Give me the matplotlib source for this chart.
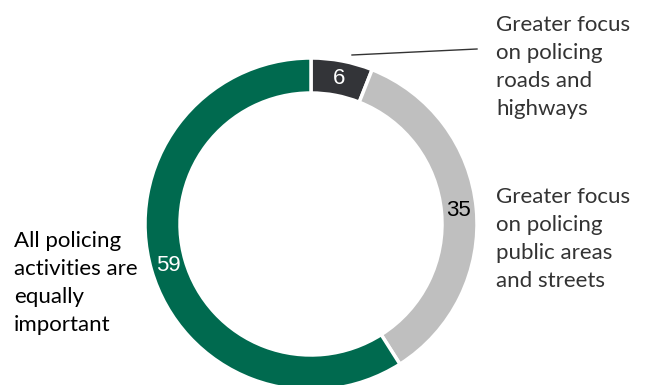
import matplotlib
matplotlib.use("Agg")
import matplotlib.pyplot as plt

# survey shares (%)
shares = [6, 35, 59]
colors = ['#333438', '#bfbfbf', '#006a4f']
value_colors = ['white', 'black', 'white']
labels = ['Greater focus\non policing\nroads and\nhighways',
          'Greater focus\non policing\npublic areas\nand streets',
          'All policing\nactivities are\nequally\nimportant']

W, H = 646, 385
fig = plt.figure(figsize=(W / 100, H / 100), dpi=100)
ax = fig.add_axes([0, 0, 1, 1])
ax.set_xlim(0, W)
ax.set_ylim(0, H)
ax.set_aspect('equal')
ax.axis('off')

cx, cy = 311, H - 224
r_out, ring = 166, 35

wedges, texts, autotexts = ax.pie(
    shares, colors=colors, radius=r_out, center=(cx, cy),
    startangle=90, counterclock=False,
    autopct=lambda p: f'{p:.0f}', pctdistance=(r_out - ring / 2) / r_out,
    wedgeprops=dict(width=ring, edgecolor='white', linewidth=2.5),
    textprops=dict(fontsize=16, family='Liberation Sans'))
for t, c in zip(autotexts, value_colors):
    t.set_color(c)
ax.set_xlim(0, W)
ax.set_ylim(0, H)

lab_font = dict(fontsize=16, family='Lato', linespacing=1.52, va='center')
ax.text(496, H - 67, labels[0], color='#333333', ha='left', **lab_font)
ax.text(496, H - 239, labels[1], color='#333333', ha='left', **lab_font)
ax.text(14, H - 283, labels[2], color='black', ha='left', **lab_font)

# leader line to the small slice
ax.plot([352, 477], [H - 55, H - 49], color='#333333', lw=1)

fig.savefig('out.png', dpi=100)
